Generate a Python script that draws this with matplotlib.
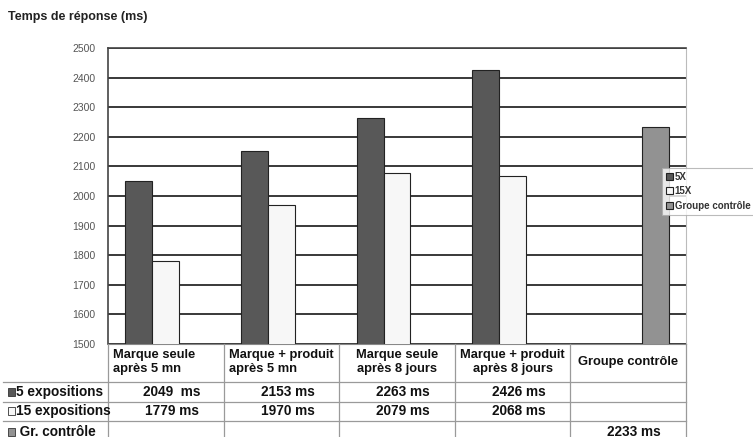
import numpy as np
import matplotlib.pyplot as plt
from matplotlib.patches import Rectangle

plt.rcParams['font.family'] = ['Liberation Sans', 'DejaVu Sans']

# Data
categories = ["Marque seule\naprès 5 mn", "Marque + produit\naprès 5 mn",
              "Marque seule\naprès 8 jours", "Marque + produit\naprès 8 jours",
              "Groupe contrôle"]
series_names = ["5X", "15X", "Groupe contrôle"]
row_labels = ["5 expositions", "15 expositions", " Gr. contrôle"]
vals_5x = [2049, 2153, 2263, 2426, None]
vals_15x = [1779, 1970, 2079, 2068, None]
vals_ctrl = [None, None, None, None, 2233]
cell_text = [["2049  ms", "2153 ms", "2263 ms", "2426 ms", ""],
             ["1779 ms", "1970 ms", "2079 ms", "2068 ms", ""],
             ["", "", "", "", "2233 ms"]]

colors = ["#585858", "#f7f7f7", "#929292"]

W, H = 753, 437
fig = plt.figure(figsize=(W / 100, H / 100), dpi=100)

# plot area in pixels
L, R, T, B = 108, 686, 48, 344
ax = fig.add_axes([L / W, 1 - B / H, (R - L) / W, (B - T) / H])

x = np.arange(len(categories))
bw = 0.233
for k, vals in enumerate([vals_5x, vals_15x, vals_ctrl]):
    idx = [i for i, v in enumerate(vals) if v is not None]
    ax.bar(x[idx] + (k - 1) * bw, [vals[i] for i in idx], bw,
           color=colors[k], edgecolor="#222222", linewidth=0.8, zorder=3,
           label=series_names[k])

ax.set_xlim(-0.5, len(categories) - 0.5)
ax.set_ylim(1500, 2500)
ax.set_yticks(np.arange(1500, 2501, 100))
ax.set_xticks([])
ax.yaxis.grid(True, color="#2a2a2a", linewidth=1.3, zorder=1)
ax.tick_params(axis="y", length=0, pad=9, labelsize=7.5, labelcolor="#555555")
for s in ["left", "top"]:
    ax.spines[s].set_color("#444444")
    ax.spines[s].set_linewidth(1.2)
ax.spines["right"].set_color("#bbbbbb")
ax.spines["bottom"].set_color("#888888")

leg = fig.legend(loc="upper left", bbox_to_anchor=(662 / W, 1 - 168 / H),
                 fontsize=7, frameon=True, fancybox=False, handlelength=0.75,
                 handleheight=0.75, handletextpad=0.15, labelspacing=0.45,
                 borderpad=0.4, borderaxespad=0)
leg.get_frame().set_edgecolor("#aaaaaa")
leg.get_frame().set_linewidth(0.8)
for t in leg.get_texts():
    t.set_fontweight("bold")
    t.set_color("#333333")

fig.text(8 / W, 1 - 17 / H, "Temps de réponse (ms)", fontsize=9,
         fontweight="bold", va="center", ha="left", color="#222222")

# table overlay in pixel coordinates
tab = fig.add_axes([0, 0, 1, 1])
tab.set_xlim(0, W)
tab.set_ylim(H, 0)
tab.axis("off")
tab.patch.set_alpha(0)

col_edges = np.linspace(L, R, len(categories) + 1)
line_c = "#9a9a9a"
row_lines = [382, 402, 421]
for y in row_lines:
    tab.plot([3, R], [y, y], color=line_c, lw=0.9)
for xe in col_edges:
    tab.plot([xe, xe], [B, H], color=line_c, lw=0.9)

head_ha = ["left", "left", "center", "center", "center"]
for i, cat in enumerate(categories):
    c0, c1 = col_edges[i], col_edges[i + 1]
    if head_ha[i] == "left":
        xt, ha = c0 + 5, "left"
    else:
        xt, ha = (c0 + c1) / 2, "center"
    tab.text(xt, 362, cat, ha=ha, va="center", multialignment=ha,
             fontsize=9.3, fontweight="bold", linespacing=1.15, color="#111111")

row_y = [392, 411, 432]
for r, lab in enumerate(row_labels):
    tab.add_patch(Rectangle((8, row_y[r] - 4), 7, 8, facecolor=colors[r],
                            edgecolor="#333333", lw=0.6))
    tab.text(16, row_y[r], lab, ha="left", va="center", fontsize=9.8,
             fontweight="bold", color="#111111")
    for i, txt in enumerate(cell_text[r]):
        if txt:
            tab.text((col_edges[i] + col_edges[i + 1]) / 2 + 6, row_y[r], txt,
                     ha="center", va="center", fontsize=9.8,
                     fontweight="bold", color="#111111")

fig.savefig("out.png", dpi=100)
